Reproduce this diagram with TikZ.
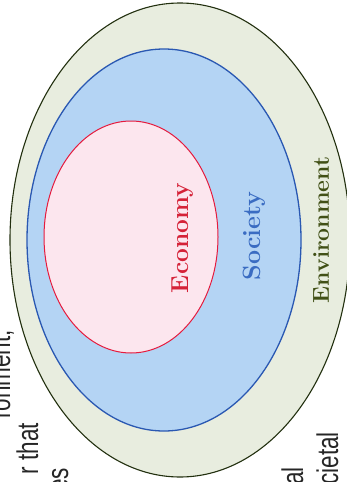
\documentclass[tikz,border=0pt]{standalone}
\usepackage{fontspec}
\newfontfamily\fragfont[FakeStretch=0.75]{Liberation Sans}
\definecolor{envfill}{HTML}{E8EDDF}
\definecolor{envline}{HTML}{22300F}
\definecolor{envtext}{HTML}{415016}
\definecolor{socfill}{HTML}{B4D4F4}
\definecolor{socline}{HTML}{2A58B2}
\definecolor{soctext}{HTML}{3A6CC2}
\definecolor{ecofill}{HTML}{FCE6EE}
\definecolor{ecoline}{HTML}{E51B3E}
\definecolor{ecotext}{HTML}{D52238}

\begin{document}
\begin{tikzpicture}[x=1pt, y=-1pt,
  ringlabel/.style={rotate=90, inner sep=0pt, font=\bfseries\fontsize{#1}{28}\selectfont},
  pagetext/.style={rotate=90, anchor=base east, inner sep=0pt, text=black!85,
    font=\fragfont\fontsize{30}{34}\selectfont}]
  \useasboundingbox (0,0) rectangle (347,482);
  \clip (0,0) rectangle (347,482);
  % centros de las elipses
  \coordinate (envC) at (180,240);
  \coordinate (socC) at (164,240);
  \coordinate (ecoC) at (131,237);
  % elipses anidadas
  \filldraw[fill=envfill, draw=envline, line width=1.1pt] (envC) ellipse [x radius=170, y radius=237];
  \filldraw[fill=socfill, draw=socline, line width=1.3pt] (socC) ellipse [x radius=137, y radius=191];
  \filldraw[fill=ecofill, draw=ecoline, line width=1pt] (ecoC) ellipse [x radius=87, y radius=116];
  % etiquetas
  \node[ringlabel=24.5, text=ecotext] (eco) at (183,238) {Economy};
  \node[ringlabel=25, text=soctext] (soc) at (254,236) {Society};
  \node[ringlabel=23, text=envtext] (env) at (321,230) {Environment};
  % restos del texto de la página
  \node[pagetext] (t1) at (10,330) {ronment,};
  \node[pagetext] (t2) at (38,423) {r that};
  \node[pagetext] (t3) at (68,468) {es};
  \node[pagetext] (t4) at (303,467) {al};
  \node[pagetext] (t5) at (338,432) {cietal};
\end{tikzpicture}
\end{document}
